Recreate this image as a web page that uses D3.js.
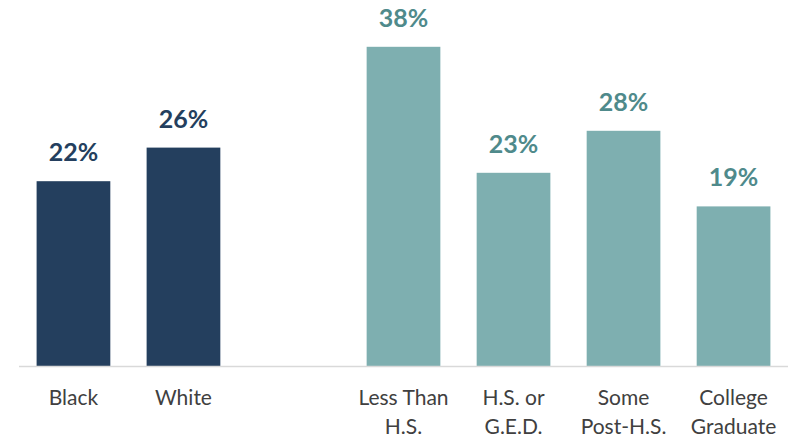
<!DOCTYPE html>
<html>
<head>
<meta charset="utf-8">
<script src="https://cdn.jsdelivr.net/npm/d3@7"></script>
<style>
  body { margin: 0; background: #fff; }
  svg { display: block; font-family: Lato, "Open Sans", sans-serif; }
</style>
</head>
<body>
<script>
var categories = ["Black", "White", "", "Less Than H.S.", "H.S. or G.E.D.", "Some Post-H.S.", "College Graduate"];
var tickLines = [["Black"], ["White"], [""], ["Less Than", "H.S."], ["H.S. or", "G.E.D."], ["Some", "Post-H.S."], ["College", "Graduate"]];
var values = [22, 26, null, 38, 23, 28, 19];
var groups = ["race", "race", null, "edu", "edu", "edu", "edu"];

function main() {
    var width = 788, height = 440;
    var baseY = 366;

    var svg = d3.select("body").append("svg")
        .attr("width", width).attr("height", height);

    var x = d3.scaleBand().domain(categories).range([19, 788])
        .paddingInner(0.33).paddingOuter(0.16);
    var y = d3.scaleLinear().domain([0, 40]).range([baseY, 30]);

    var barColor = { race: "#243f5e", edu: "#7eafb0" };
    var labelColor = { race: "#243f5e", edu: "#4f8a8b" };

    var data = categories.map(function(c, i) {
        return { cat: c, value: values[i], group: groups[i], lines: tickLines[i] };
    });
    var bars = data.filter(function(d) { return d.value !== null; });

    svg.selectAll("rect.bar")
        .data(bars)
        .enter()
        .append("rect")
        .attr("class", "bar")
        .attr("x", function(d) { return x(d.cat); })
        .attr("y", function(d) { return y(d.value); })
        .attr("width", x.bandwidth())
        .attr("height", function(d) { return y(0) - y(d.value); })
        .attr("fill", function(d) { return barColor[d.group]; });

    svg.selectAll("text.val")
        .data(bars)
        .enter()
        .append("text")
        .attr("class", "val")
        .text(function(d) { return d.value + "%"; })
        .attr("x", function(d) { return x(d.cat) + x.bandwidth() / 2; })
        .attr("y", function(d) { return y(d.value) - 20; })
        .attr("text-anchor", "middle")
        .attr("font-size", "25px")
        .attr("font-weight", "bold")
        .attr("fill", function(d) { return labelColor[d.group]; });

    // baseline
    svg.append("line")
        .attr("x1", 19).attr("x2", 788)
        .attr("y1", baseY + 0.5).attr("y2", baseY + 0.5)
        .attr("stroke", "#d9d9d9").attr("stroke-width", 1.5);

    var ticks = svg.selectAll("text.tick")
        .data(data)
        .enter()
        .append("text")
        .attr("class", "tick")
        .attr("x", function(d) { return x(d.cat) + x.bandwidth() / 2; })
        .attr("y", 405)
        .attr("text-anchor", "middle")
        .attr("font-size", "21px")
        .attr("fill", "#404040");

    ticks.selectAll("tspan")
        .data(function(d) { return d.lines; })
        .enter()
        .append("tspan")
        .attr("x", function() { var p = d3.select(this.parentNode).datum(); return x(p.cat) + x.bandwidth() / 2; })
        .attr("dy", function(d, i) { return i === 0 ? 0 : 29; })
        .text(function(d) { return d; });
}

window.onload = main;
</script>
</body>
</html>
